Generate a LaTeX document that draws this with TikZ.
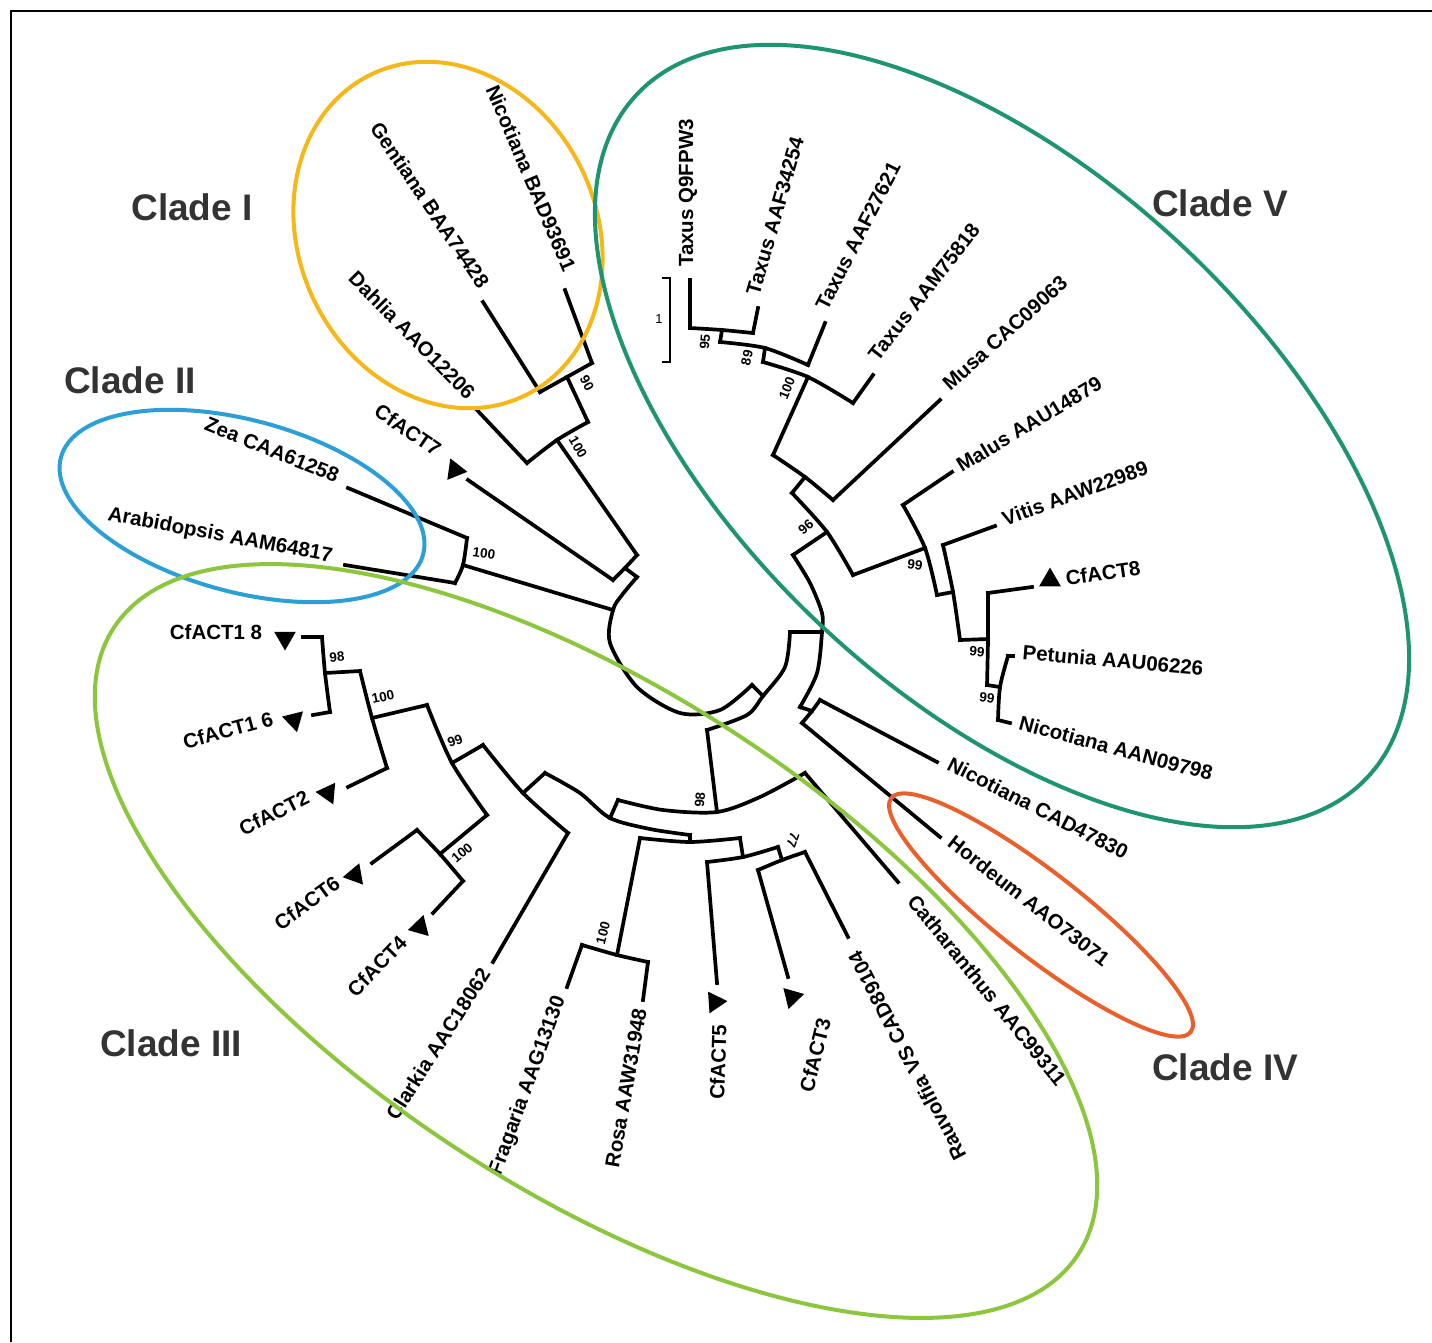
\documentclass[tikz,border=0pt]{standalone}
\usepackage{fontspec}
\setmainfont{Liberation Sans}
\usetikzlibrary{shapes.geometric}
\definecolor{cI}{HTML}{F6B71B}
\definecolor{cII}{HTML}{2C9FD6}
\definecolor{cIII}{HTML}{8CC63F}
\definecolor{cIV}{HTML}{E8612C}
\definecolor{cV}{HTML}{1E9570}
\definecolor{cgray}{HTML}{333333}
\begin{document}
\begin{tikzpicture}[x=1pt,y=-1pt,
  br/.style={line width=3.7pt,line cap=rect,line join=miter},
  leaf/.style={font=\fontsize{20.5}{24}\selectfont\bfseries,inner sep=0pt},
  boot/.style={font=\fontsize{13.5}{15}\selectfont\bfseries,inner sep=0pt},
  clade/.style={font=\fontsize{37}{44}\selectfont\bfseries,text=cgray,inner sep=0pt},
  tri/.style={regular polygon,regular polygon sides=3,fill=black,inner sep=0pt,minimum size=25pt},
  ring/.style={line width=4pt}]
\useasboundingbox (0,0) rectangle (1432,1342);
\fill[white] (0,0) rectangle (1432,1342);
% frame
\coordinate (fTL) at (11,11); \coordinate (fTR) at (1432,11); \coordinate (fBL) at (11,1342);
\draw[line width=1.3pt] (fTR) -- (fTL) -- (fBL);

% ---------- coordinates ----------
\coordinate (r1) at (637,577); \coordinate (r2) at (622,595); \coordinate (r3) at (613,610);
\coordinate (r4) at (610,643); \coordinate (r5) at (637,687); \coordinate (r6) at (680,713);
\coordinate (r7) at (720,710); \coordinate (r8) at (752,685);
\coordinate (a0) at (625,568); \coordinate (a1) at (613,580); \coordinate (a2) at (637,555); \coordinate (t7) at (468,480);
\coordinate (b0) at (557,440); \coordinate (b1) at (527,463); \coordinate (b2) at (588,422); \coordinate (tDah) at (477,410);
\coordinate (c0) at (567,377); \coordinate (c1) at (540,392); \coordinate (c2) at (592,363);
\coordinate (tGen) at (483,302); \coordinate (tNic1) at (565,290);
\coordinate (d0) at (463,565); \coordinate (d1) at (467,538); \coordinate (d2) at (455,583);
\coordinate (tZea) at (348,488); \coordinate (tAra) at (345,565);
\coordinate (e0) at (707,730); \coordinate (e3) at (747,715); \coordinate (e1) at (763,696);
\coordinate (e4) at (785,667); \coordinate (e2) at (790,632);
\coordinate (f0) at (822,632); \coordinate (f1) at (793,555); \coordinate (f3) at (810,583);
\coordinate (f4) at (822,613); \coordinate (f5) at (817,673); \coordinate (f2) at (800,707);
\coordinate (g0) at (827,532); \coordinate (g1) at (792,493); \coordinate (g2) at (853,575);
\coordinate (h0) at (805,477); \coordinate (h1) at (773,455); \coordinate (h2) at (833,500); \coordinate (tMusa) at (940,400);
\coordinate (i0) at (808,377); \coordinate (i1) at (763,362); \coordinate (i2) at (853,403); \coordinate (tTx4) at (873,375);
\coordinate (j0) at (765,348); \coordinate (j1) at (720,342); \coordinate (j2) at (808,365); \coordinate (tTx3) at (825,323);
\coordinate (k0) at (722,330); \coordinate (k1) at (690,328); \coordinate (k2) at (753,333);
\coordinate (tTx1) at (690,280); \coordinate (tTx2) at (758,308);
\coordinate (l0) at (925,548); \coordinate (l1) at (903,505); \coordinate (l2) at (937,595); \coordinate (tMal) at (952,472);
\coordinate (m0) at (953,592); \coordinate (m1) at (943,545); \coordinate (m2) at (960,640); \coordinate (tVit) at (995,526);
\coordinate (n0) at (988,639); \coordinate (n1) at (988,593); \coordinate (n2) at (987,685); \coordinate (t8) at (1032,587);
\coordinate (o0) at (1000,687); \coordinate (o1) at (1008,656); \coordinate (o2) at (998,720);
\coordinate (tPet) at (1013,656); \coordinate (tNicA) at (1010,723);
\coordinate (p0) at (812,711); \coordinate (p1) at (820,700); \coordinate (p2) at (802,723);
\coordinate (tNicC) at (937,762); \coordinate (tHor) at (940,837);
\coordinate (q0) at (717,812); \coordinate (q1) at (618,800); \coordinate (q3) at (663,810);
\coordinate (q4) at (760,797); \coordinate (q2) at (805,773); \coordinate (tCat) at (898,882);
\coordinate (s0) at (610,818); \coordinate (s1) at (545,773); \coordinate (s3) at (580,793);
\coordinate (s4) at (650,829); \coordinate (s2) at (690,835);
\coordinate (u0) at (690,842); \coordinate (u1) at (640,838); \coordinate (u2) at (740,838);
\coordinate (v0) at (617,955); \coordinate (v1) at (582,945); \coordinate (v2) at (648,962);
\coordinate (tFra) at (567,987); \coordinate (tRos) at (643,1000);
\coordinate (w0) at (743,857); \coordinate (w1) at (707,862); \coordinate (w2) at (778,847); \coordinate (t5) at (717,983);
\coordinate (x0) at (782,860); \coordinate (x1) at (758,870); \coordinate (x2) at (805,852);
\coordinate (t3) at (788,977); \coordinate (tRau) at (848,937);
\coordinate (y0) at (523,793); \coordinate (y1) at (483,745); \coordinate (y2) at (568,833); \coordinate (tCla) at (493,962);
\coordinate (z0) at (452,763); \coordinate (z1) at (427,705); \coordinate (z2) at (487,815);
\coordinate (aa0) at (372,718); \coordinate (aa1) at (360,671); \coordinate (aa2) at (387,768); \coordinate (t2) at (348,787);
\coordinate (bb0) at (325,673); \coordinate (bb1) at (322,637); \coordinate (bb2) at (330,712);
\coordinate (t18) at (303,637); \coordinate (t16) at (313,715);
\coordinate (cc0) at (440,854); \coordinate (cc1) at (417,830); \coordinate (cc2) at (463,881);
\coordinate (t6) at (372,863); \coordinate (t4) at (433,913);

% ---------- tree ----------
\draw[br] plot[smooth] coordinates {(r1) (r2) (r3) (r4) (r5) (r6) (r7) (r8)};
\draw[br] (r1) -- (a0);
\draw[br] plot[smooth] coordinates {(a1) (a0) (a2)};
\draw[br] (a1) -- (t7);
\draw[br] (a2) -- (b0);
\draw[br] plot[smooth] coordinates {(b1) (b0) (b2)};
\draw[br] (b1) -- (tDah);
\draw[br] (b2) -- (c0);
\draw[br] plot[smooth] coordinates {(c1) (c0) (c2)};
\draw[br] (c1) -- (tGen);
\draw[br] (c2) -- (tNic1);
\draw[br] (r3) -- (d0);
\draw[br] plot[smooth] coordinates {(d1) (d0) (d2)};
\draw[br] (d1) -- (tZea);
\draw[br] (d2) -- (tAra);
\draw[br] (r8) -- (e1);
\draw[br] plot[smooth] coordinates {(e0) (e3) (e1) (e4) (e2)};
\draw[br] (e2) -- (f0);
\draw[br] plot[smooth] coordinates {(f1) (f3) (f4) (f0) (f5) (f2)};
\draw[br] (f1) -- (g0);
\draw[br] plot[smooth] coordinates {(g1) (g0) (g2)};
\draw[br] (g1) -- (h0);
\draw[br] plot[smooth] coordinates {(h1) (h0) (h2)};
\draw[br] (h2) -- (tMusa);
\draw[br] (h1) -- (i0);
\draw[br] plot[smooth] coordinates {(i1) (i0) (i2)};
\draw[br] (i2) -- (tTx4);
\draw[br] (i1) -- (j0);
\draw[br] plot[smooth] coordinates {(j1) (j0) (j2)};
\draw[br] (j2) -- (tTx3);
\draw[br] (j1) -- (k0);
\draw[br] plot[smooth] coordinates {(k1) (k0) (k2)};
\draw[br] (k1) -- (tTx1);
\draw[br] (k2) -- (tTx2);
\draw[br] (g2) -- (l0);
\draw[br] plot[smooth] coordinates {(l1) (l0) (l2)};
\draw[br] (l1) -- (tMal);
\draw[br] (l2) -- (m0);
\draw[br] plot[smooth] coordinates {(m1) (m0) (m2)};
\draw[br] (m1) -- (tVit);
\draw[br] (m2) -- (n0);
\draw[br] plot[smooth] coordinates {(n1) (n0) (n2)};
\draw[br] (n1) -- (t8);
\draw[br] (n2) -- (o0);
\draw[br] plot[smooth] coordinates {(o1) (o0) (o2)};
\draw[br] (o1) -- (tPet);
\draw[br] (o2) -- (tNicA);
\draw[br] (f2) -- (p0);
\draw[br] plot[smooth] coordinates {(p1) (p0) (p2)};
\draw[br] (p1) -- (tNicC);
\draw[br] (p2) -- (tHor);
\draw[br] (e0) -- (q0);
\draw[br] plot[smooth] coordinates {(q1) (q3) (q0) (q4) (q2)};
\draw[br] (q2) -- (tCat);
\draw[br] (q1) -- (s0);
\draw[br] plot[smooth] coordinates {(s1) (s3) (s0) (s4) (s2)};
\draw[br] (s2) -- (u0);
\draw[br] plot[smooth] coordinates {(u1) (u0) (u2)};
\draw[br] (u1) -- (v0);
\draw[br] plot[smooth] coordinates {(v1) (v0) (v2)};
\draw[br] (v1) -- (tFra);
\draw[br] (v2) -- (tRos);
\draw[br] (u2) -- (w0);
\draw[br] plot[smooth] coordinates {(w1) (w0) (w2)};
\draw[br] (w1) -- (t5);
\draw[br] (w2) -- (x0);
\draw[br] plot[smooth] coordinates {(x1) (x0) (x2)};
\draw[br] (x1) -- (t3);
\draw[br] (x2) -- (tRau);
\draw[br] (s1) -- (y0);
\draw[br] plot[smooth] coordinates {(y1) (y0) (y2)};
\draw[br] (y2) -- (tCla);
\draw[br] (y1) -- (z0);
\draw[br] plot[smooth] coordinates {(z1) (z0) (z2)};
\draw[br] (z1) -- (aa0);
\draw[br] plot[smooth] coordinates {(aa1) (aa0) (aa2)};
\draw[br] (aa2) -- (t2);
\draw[br] (aa1) -- (bb0);
\draw[br] plot[smooth] coordinates {(bb1) (bb0) (bb2)};
\draw[br] (bb1) -- (t18);
\draw[br] (bb2) -- (t16);
\draw[br] (z2) -- (cc0);
\draw[br] plot[smooth] coordinates {(cc1) (cc0) (cc2)};
\draw[br] (cc1) -- (t6);
\draw[br] (cc2) -- (t4);

% scale bar
\coordinate (sb1) at (662,278); \coordinate (sb2) at (670,278);
\coordinate (sb3) at (670,362); \coordinate (sb4) at (662,362);
\draw[line width=1.5pt] (sb1) -- (sb2) -- (sb3) -- (sb4);
\node[font=\fontsize{13}{15}\selectfont,inner sep=0pt] (sbl) at (659,319) {1};

% ---------- triangles ----------
\node[tri,rotate=22] (tr7) at (455,470) {};
\node[tri,rotate=180] (tr18) at (285,638) {};
\node[tri,rotate=-166] (tr16) at (294,720) {};
\node[tri,rotate=85] (tr2) at (328,793) {};
\node[tri,rotate=100] (tr6) at (355,875) {};
\node[tri,rotate=104] (tr4) at (420,927) {};
\node[tri,rotate=-86] (tr5) at (715,1002) {};
\node[tri,rotate=-76] (tr3) at (792,997) {};
\node[tri,rotate=0] (tr8) at (1050,580) {};

% ---------- leaf labels ----------
\node[leaf,rotate=-56] (labGen) at (430,205) {Gentiana BAA74428};
\node[leaf,rotate=-67] (labNic1) at (531,178) {Nicotiana BAD93691};
\node[leaf,rotate=-45.5] (labDah) at (412,335) {Dahlia AAO12206};
\node[leaf,rotate=-34.5] (labC7) at (408,430) {CfACT7};
\node[leaf,rotate=-22] (labZea) at (272,450) {Zea CAA61258};
\node[leaf,rotate=-10.6] (labAra) at (220,536) {Arabidopsis AAM64817};
\node[leaf] (labC18) at (216,632) {CfACT1 8};
\node[leaf,rotate=15] (labC16) at (228,730) {CfACT1 6};
\node[leaf,rotate=26.5] (labC2) at (274,813) {CfACT2};
\node[leaf,rotate=36] (labC6) at (307,903) {CfACT6};
\node[leaf,rotate=46] (labC4) at (377,966) {CfACT4};
\node[leaf,rotate=57.5] (labCla) at (438,1044) {Clarkia AAC18062};
\node[leaf,rotate=70] (labFra) at (528,1086) {Fragaria AAG13130};
\node[leaf,rotate=80] (labRos) at (626,1088) {Rosa AAW31948};
\node[leaf,rotate=88] (labC5) at (718,1062) {CfACT5};
\node[leaf,rotate=76] (labC3) at (815,1055) {CfACT3};
\node[leaf,rotate=117.4] (labRau) at (907,1056) {Rauvolfia VS CAD89104};
\node[leaf,rotate=-51] (labCat) at (987,990) {Catharanthus AAC99311};
\node[leaf,rotate=-38] (labHor) at (1029,901) {Hordeum AAO73071};
\node[leaf,rotate=-27] (labNicC) at (1038,808) {Nicotiana CAD47830};
\node[leaf,rotate=-15] (labNicA) at (1116,748) {Nicotiana AAN09798};
\node[leaf,rotate=-5] (labPet) at (1113,660) {Petunia AAU06226};
\node[leaf,rotate=8] (labC8) at (1103,573) {CfACT8};
\node[leaf,rotate=20] (labVit) at (1075,493) {Vitis AAW22989};
\node[leaf,rotate=31] (labMal) at (1029,424) {Malus AAU14879};
\node[leaf,rotate=42] (labMusa) at (1005,333) {Musa CAC09063};
\node[leaf,rotate=52] (labTx4) at (924,292) {Taxus AAM75818};
\node[leaf,rotate=63] (labTx3) at (858,236) {Taxus AAF27621};
\node[leaf,rotate=74] (labTx2) at (775,216) {Taxus AAF34254};
\node[leaf,rotate=90] (labTx1) at (688,193) {Taxus Q9FPW3};

% ---------- bootstrap values ----------
\node[boot,rotate=-62] (bs90) at (587,383) {90};
\node[boot,rotate=-60] (bs100a) at (578,447) {100};
\node[boot,rotate=-8] (bs100b) at (484,553) {100};
\node[boot,rotate=85] (bs95) at (705,342) {95};
\node[boot,rotate=78] (bs89) at (747,358) {89};
\node[boot,rotate=68] (bs100c) at (787,388) {100};
\node[boot,rotate=40] (bs96) at (806,527) {96};
\node[boot,rotate=-8] (bs99a) at (915,565) {99};
\node[boot,rotate=-5] (bs99b) at (977,652) {99};
\node[boot,rotate=-8] (bs99c) at (987,698) {99};
\node[boot,rotate=5] (bs98a) at (337,657) {98};
\node[boot,rotate=12] (bs100d) at (383,697) {100};
\node[boot,rotate=20] (bs99d) at (455,741) {99};
\node[boot,rotate=40] (bs100e) at (462,853) {100};
\node[boot,rotate=85] (bs98b) at (700,800) {98};
\node[boot,rotate=-110] (bs77) at (793,840) {77};
\node[boot,rotate=75] (bs100f) at (603,933) {100};

% ---------- clade rings ----------
\draw[ring,cI,rotate around={-65:(448,235)}] (448,235) ellipse [x radius=178,y radius=149];
\draw[ring,cII,rotate around={-15:(242,506)}] (242,506) ellipse [x radius=187.5,y radius=86];
\draw[ring,cIII,rotate around={-33:(596,941)}] (596,941) ellipse [x radius=575,y radius=250];
\draw[ring,cIV,rotate around={-38:(1041,915)}] (1041,915) ellipse [x radius=190,y radius=42];
\draw[ring,cV,rotate around={-43:(1002,436)}] (1002,436) ellipse [x radius=500,y radius=262];

% ---------- clade names ----------
\node[clade] (cl1) at (192,207) {Clade I};
\node[clade] (cl2) at (130,380) {Clade II};
\node[clade] (cl3) at (171,1043) {Clade III};
\node[clade] (cl4) at (1225,1067) {Clade IV};
\node[clade] (cl5) at (1220,203) {Clade V};
\end{tikzpicture}
\end{document}
